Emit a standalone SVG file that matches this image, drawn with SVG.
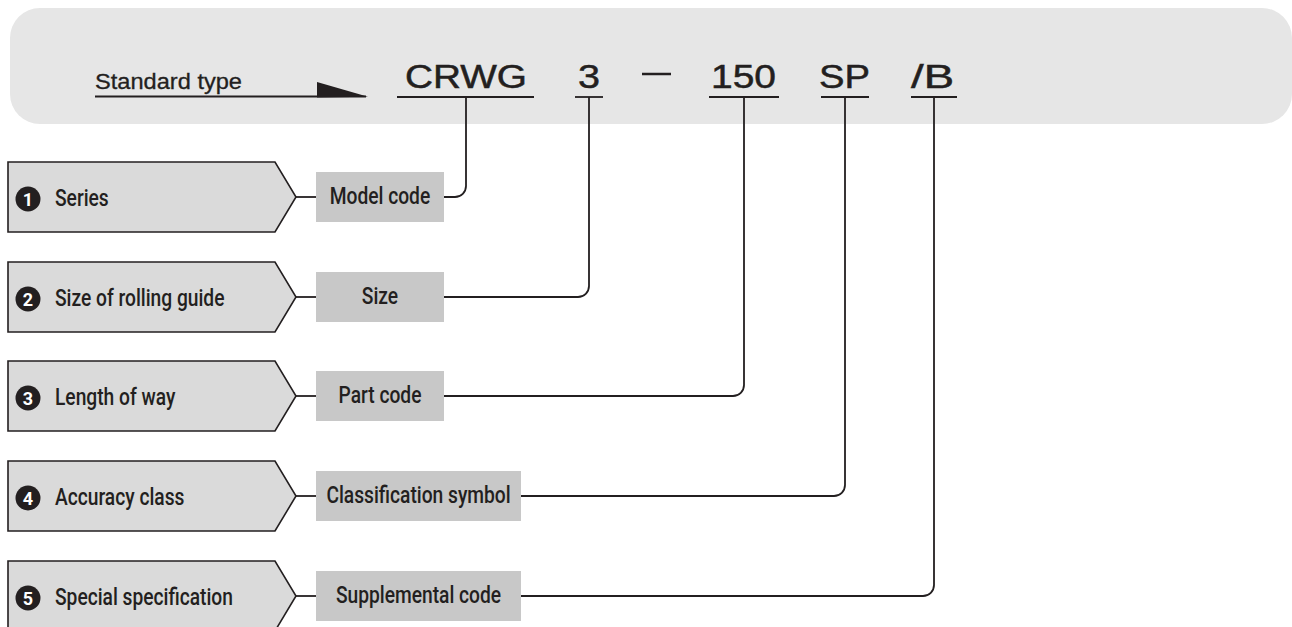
<svg xmlns="http://www.w3.org/2000/svg" width="1292" height="627" viewBox="0 0 1292 627">
<style>
.band{fill:#e6e6e6}
.pent{fill:#dadada;stroke:#231f20;stroke-width:1.6}
.box{fill:#c8c8c8}
.ln{fill:none;stroke:#231f20;stroke-width:1.8}
.lbl{font-family:Roboto,"Liberation Sans",sans-serif;font-weight:500;font-size:24px;fill:#231f20}
.num{font-family:Roboto,"Liberation Sans",sans-serif;font-weight:700;font-size:18px;fill:#ffffff;text-anchor:middle}
.code{font-family:"Liberation Sans",Arial,sans-serif;font-size:33.5px;fill:#231f20;stroke:#231f20;stroke-width:0.5}
.std{font-family:"Liberation Sans",Arial,sans-serif;font-size:22px;fill:#231f20;stroke:#231f20;stroke-width:0.3}
</style>
<rect class="band" x="10" y="8" width="1282" height="116" rx="30" ry="30"/>
<g id="header">
  <text class="std" x="95" y="89" textLength="147" lengthAdjust="spacingAndGlyphs">Standard type</text>
  <line class="ln" x1="95" y1="96.5" x2="366" y2="96.5"/>
  <polygon points="317,82 368,96.8 317,97.5" fill="#231f20"/>
</g>
<g id="code">
  <text class="code" x="405" y="88" textLength="122" lengthAdjust="spacingAndGlyphs">CRWG</text>
  <text class="code" x="578" y="88" textLength="22" lengthAdjust="spacingAndGlyphs">3</text>
  <line x1="642" y1="74" x2="671" y2="74" stroke="#231f20" stroke-width="2.5"/>
  <text class="code" x="711" y="88" textLength="65" lengthAdjust="spacingAndGlyphs">150</text>
  <text class="code" x="819" y="88" textLength="51" lengthAdjust="spacingAndGlyphs">SP</text>
  <text class="code" x="911" y="88" textLength="43" lengthAdjust="spacingAndGlyphs">/B</text>
  <line class="ln" x1="397" y1="97" x2="534" y2="97"/>
  <line class="ln" x1="575" y1="97" x2="603" y2="97"/>
  <line class="ln" x1="709" y1="97" x2="779" y2="97"/>
  <line class="ln" x1="821" y1="97" x2="869" y2="97"/>
  <line class="ln" x1="911" y1="97" x2="957" y2="97"/>
</g>
<g id="row1">
  <polygon class="pent" points="8,162 275,162 296,197 275,232 8,232"/>
  <circle cx="28" cy="199" r="12.5" fill="#231f20"/>
  <text class="num" x="28" y="205.5">1</text>
  <text class="lbl" transform="translate(55,206) scale(0.8,1)">Series</text>
  <rect class="box" x="316" y="172" width="128" height="50"/>
  <text class="lbl" text-anchor="middle" transform="translate(380,204) scale(0.8,1)">Model code</text>
</g>
<g id="row2">
  <polygon class="pent" points="8,262 275,262 296,297 275,332 8,332"/>
  <circle cx="28" cy="299" r="12.5" fill="#231f20"/>
  <text class="num" x="28" y="305.5">2</text>
  <text class="lbl" transform="translate(55,306) scale(0.8,1)">Size of rolling guide</text>
  <rect class="box" x="316" y="272" width="128" height="50"/>
  <text class="lbl" text-anchor="middle" transform="translate(380,304) scale(0.8,1)">Size</text>
</g>
<g id="row3">
  <polygon class="pent" points="8,361 275,361 296,396 275,431 8,431"/>
  <circle cx="28" cy="398" r="12.5" fill="#231f20"/>
  <text class="num" x="28" y="404.5">3</text>
  <text class="lbl" transform="translate(55,405) scale(0.8,1)">Length of way</text>
  <rect class="box" x="316" y="371" width="128" height="50"/>
  <text class="lbl" text-anchor="middle" transform="translate(380,403) scale(0.8,1)">Part code</text>
</g>
<g id="row4">
  <polygon class="pent" points="8,461 275,461 296,496 275,531 8,531"/>
  <circle cx="28" cy="498" r="12.5" fill="#231f20"/>
  <text class="num" x="28" y="504.5">4</text>
  <text class="lbl" transform="translate(55,505) scale(0.8,1)">Accuracy class</text>
  <rect class="box" x="316" y="471" width="205" height="50"/>
  <text class="lbl" text-anchor="middle" transform="translate(418.5,503) scale(0.8,1)">Classification symbol</text>
</g>
<g id="row5">
  <polygon class="pent" points="8,561 275,561 296,596 275,631 8,631"/>
  <circle cx="28" cy="598" r="12.5" fill="#231f20"/>
  <text class="num" x="28" y="604.5">5</text>
  <text class="lbl" transform="translate(55,605) scale(0.8,1)">Special specification</text>
  <rect class="box" x="316" y="571" width="205" height="50"/>
  <text class="lbl" text-anchor="middle" transform="translate(418.5,603) scale(0.8,1)">Supplemental code</text>
</g>
<g id="connectors">
  <path class="ln" d="M296,197 H316"/>
  <path class="ln" d="M296,297 H316"/>
  <path class="ln" d="M296,396 H316"/>
  <path class="ln" d="M296,496 H316"/>
  <path class="ln" d="M296,596 H316"/>
  <path class="ln" d="M444,197 H455 A11,11 0 0 0 466,186 V97"/>
  <path class="ln" d="M444,297 H578 A11,11 0 0 0 589,286 V97"/>
  <path class="ln" d="M444,396 H733 A11,11 0 0 0 744,385 V97"/>
  <path class="ln" d="M521,496 H834 A11,11 0 0 0 845,485 V97"/>
  <path class="ln" d="M521,596 H923 A11,11 0 0 0 934,585 V97"/>
</g>
</svg>
